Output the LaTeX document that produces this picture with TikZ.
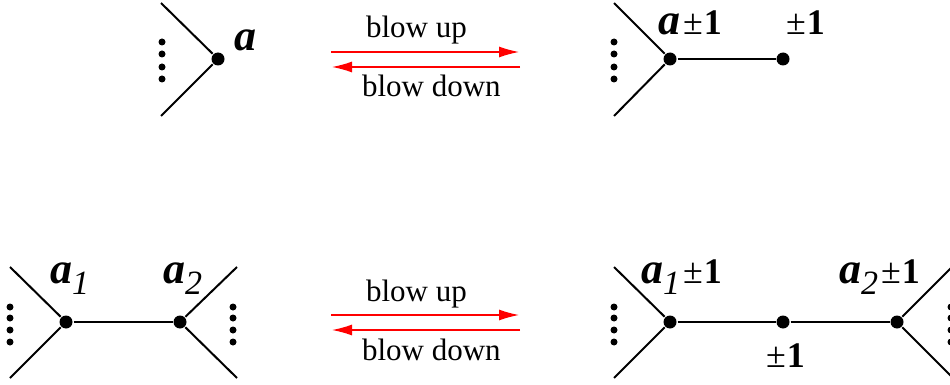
\documentclass[tikz,border=0pt]{standalone}
\usepackage{fontspec}
\setmainfont{Liberation Serif}
\usetikzlibrary{arrows.meta}

\newcommand{\pmone}{{\fontsize{36}{40}\selectfont\upshape\mdseries\kern3pt±\kern1pt\bfseries 1}}
\newcommand{\idx}[1]{{\fontsize{34}{38}\selectfont\mdseries\raisebox{-11pt}{#1}}}

\begin{document}
\begin{tikzpicture}[x=1pt, y=-1pt, line width=2pt,
    vtx/.style={circle, fill, inner sep=0pt, minimum size=13pt},
    lbl/.style={anchor=base west, inner sep=0pt, font=\fontsize{44}{48}\selectfont\bfseries\itshape},
    txt/.style={anchor=base west, inner sep=0pt, font=\fontsize{31}{35}\selectfont},
    move/.style={red, line width=1.3pt, -{Latex[length=20pt, width=11pt]}}]
\useasboundingbox (0,0) rectangle (950,385);

\foreach \r/\dy in {t/0, b/263} {
    \coordinate (up-s-\r) at (331,52+\dy);
    \coordinate (up-e-\r) at (519,52+\dy);
    \coordinate (dn-s-\r) at (520,67+\dy);
    \coordinate (dn-e-\r) at (332,67+\dy);
    \draw[move] (up-s-\r) -- (up-e-\r);
    \draw[move] (dn-s-\r) -- (dn-e-\r);
    \node[txt] (bu-\r) at (365,38+\dy) {blow up};
    \node[txt] (bd-\r) at (361,97+\dy) {blow down};
}

\node[vtx] (a) at (218,59) {};
\coordinate (a-n) at (161,3);
\coordinate (a-s) at (161,116);
\draw (a-n) -- (a) -- (a-s);
\foreach \y in {42,54,67,79} \fill (162,\y) circle (3.5pt);
\node[lbl] (la) at (233,51) {a};

\node[vtx] (b) at (670,59) {};
\node[vtx] (e) at (783,59) {};
\coordinate (b-n) at (614,3);
\coordinate (b-s) at (614,116);
\draw (b-n) -- (b) -- (b-s);
\draw (b) -- (e);
\foreach \y in {42,54,67,79} \fill (614,\y) circle (3.5pt);
\node[lbl] (lb) at (657,35) {a\pmone};
\node[lbl] (le) at (782,35) {\pmone};

\node[vtx] (c1) at (66,322) {};
\node[vtx] (c2) at (180,322) {};
\coordinate (c1-n) at (10,267);
\coordinate (c1-s) at (10,378);
\coordinate (c2-n) at (237,267);
\coordinate (c2-s) at (237,378);
\draw (c1-n) -- (c1) -- (c1-s);
\draw (c2-n) -- (c2) -- (c2-s);
\draw (c1) -- (c2);
\foreach \y in {307,318,330,342} {
    \fill (10,\y) circle (3.5pt);
    \fill (233,\y) circle (3.5pt);
}
\node[lbl] (lc1) at (49,283) {a\idx{1}};
\node[lbl] (lc2) at (162,283) {a\idx{2}};

\node[vtx] (d1) at (670,322) {};
\node[vtx] (dm) at (783,322) {};
\node[vtx] (d2) at (897,322) {};
\coordinate (d1-n) at (614,267);
\coordinate (d1-s) at (614,378);
\coordinate (d2-n) at (953,266);
\coordinate (d2-s) at (953,378);
\draw (d1-n) -- (d1) -- (d1-s);
\draw (d2-n) -- (d2) -- (d2-s);
\draw (d1) -- (dm) -- (d2);
\foreach \y in {307,318,330,342} {
    \fill (614,\y) circle (3.5pt);
    \fill (951,\y) circle (3.5pt);
}
\node[lbl] (ld1) at (640,283) {a\idx{1}\pmone};
\node[lbl] (ld2) at (838,283) {a\idx{2}\pmone};
\node[lbl] (ldm) at (762,367) {\pmone};
\end{tikzpicture}
\end{document}
